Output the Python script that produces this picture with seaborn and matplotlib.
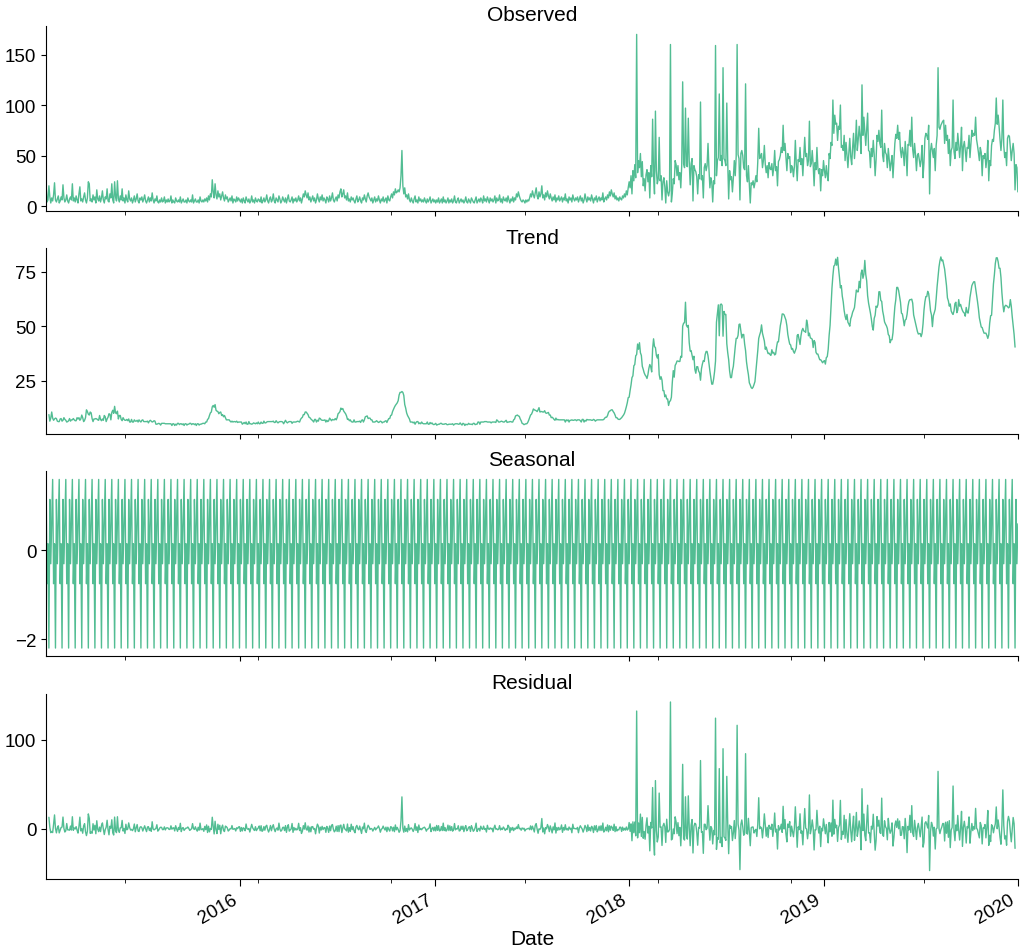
import numpy as np
import pandas as pd
import seaborn as sns
import matplotlib.pyplot as plt
import matplotlib.dates as mdates
from matplotlib.ticker import MultipleLocator, FixedLocator

# observed counts, one list per year
obs_2015 = [22, 4, 6, 20, 9, 3, 8, 5, 11, 23, 6, 4, 7, 10, 3, 5, 9, 6, 21, 8, 4, 6, 11, 5, 3, 7, 9, 6, 22, 5,
            8, 4, 10, 6, 3, 12, 19, 5, 7, 4, 9, 13, 6, 3, 8, 24, 22, 5, 7, 4, 11, 6, 9, 3, 16, 7, 5, 10, 4, 8,
            15, 6, 3, 9, 7, 17, 5, 4, 12, 8, 22, 6, 3, 24, 9, 5, 25, 7, 4, 10, 6, 17, 5, 8, 3, 11, 6, 4, 15, 7,
            5, 8, 3, 6, 10, 4, 7, 12, 5, 3, 8, 6, 9, 4, 7, 11, 5, 3, 6, 9, 4, 8, 5, 13, 6, 3, 7, 5, 10, 4,
            3, 6, 4, 8, 4, 5, 9, 3, 6, 4, 7, 4, 5, 10, 3, 6, 4, 3, 8, 5, 4, 6, 4, 9, 3, 5, 7, 4, 4, 6,
            3, 8, 5, 4, 6, 4, 11, 3, 5, 7, 4, 4, 6, 3, 9, 5, 4, 6, 4, 7,
            5, 8, 4, 10, 6, 12, 9, 26, 14, 8, 22, 11, 7, 15, 9, 12, 6, 10, 14, 8, 5, 11, 7, 9, 4, 6, 8, 5, 10, 3,
            7, 6, 4, 9, 5, 8, 6]
obs_2016 = [4, 7, 3, 8, 5, 3, 9, 6, 4, 7, 3, 5, 10, 4, 6, 3, 8, 5, 4, 7, 6, 4, 9, 3, 5, 8, 4, 6, 11, 5,
            3, 7, 9, 4, 6, 12, 5, 3, 8, 6, 4, 10, 7, 3, 5, 9, 6, 4, 8, 3, 7, 11, 5, 4, 6, 9, 3, 7, 5, 8,
            4, 6, 10, 5, 8, 3, 7, 12, 9, 15, 11, 8, 13, 6, 9, 4, 7, 10, 5, 8, 3, 6, 12, 7, 4, 9, 6, 11, 5, 8,
            6, 3, 9, 7, 4, 10, 5, 8, 13, 6, 4, 7, 9, 5, 11, 8, 14, 17, 9, 12, 16, 8, 10, 6, 13, 5, 7, 4, 9, 6,
            8, 5, 3, 7, 10, 4, 6, 9, 5, 3, 8, 6, 11, 7, 4, 10, 13, 9, 7, 5, 8, 3, 6, 9, 4, 7, 5, 10, 6, 3,
            7, 5, 9, 4, 6, 8, 3, 10, 6, 5, 9, 12, 8, 14, 11, 17, 13, 14, 16, 14, 18, 30, 55, 20, 12, 18, 9, 11, 7, 12,
            6, 4, 8, 5, 3, 7, 10, 4, 6, 3, 9, 5, 7, 4, 6, 4, 8, 5, 3, 7, 4, 6, 9, 3, 5, 7, 4, 6]
obs_2017 = [3, 6, 4, 8, 3, 5, 7, 3, 9, 4, 6, 3, 5, 8, 3, 6, 4, 7, 3, 5, 10, 4, 3, 6, 8, 3, 5, 7, 4, 6,
            3, 5, 9, 4, 3, 7, 5, 3, 8, 6, 4, 3, 6, 9, 3, 5, 7, 4, 8, 6, 3, 10, 5, 7, 4, 9, 6, 3, 8, 5,
            7, 4, 6, 10, 3, 8, 5, 6, 11, 4, 7, 3, 9, 6, 5, 8, 4, 10, 6, 3, 7, 5, 9, 4, 8, 6, 12, 9, 14, 10,
            7, 5, 4, 6, 5, 3, 6, 4, 6, 5, 8, 12, 9, 15, 11, 8, 13, 18, 10, 7, 14, 9, 12, 20, 8, 11, 6, 13, 9, 15,
            10, 7, 12, 8, 5, 9, 6, 11, 4, 8, 6, 10, 5, 7, 9, 4, 8, 6, 12, 5, 7, 3, 9, 6, 8, 4, 11, 7, 5, 8,
            6, 9, 4, 7, 10, 5, 8, 3, 6, 12, 7, 4, 9, 6, 8, 5, 11, 7, 3, 8, 6, 10, 4, 7, 9, 5, 8, 6, 13, 4,
            7, 9, 6, 11, 8, 14, 10, 16, 12, 9, 13, 7, 10, 6, 8, 5, 9, 7, 6, 10, 8, 12, 9, 15, 11, 18, 24]
obs_2018 = [18, 30, 12, 35, 25, 41, 28, 170, 33, 45,
            38, 52, 29, 44, 20, 27, 15, 31, 36, 24,
            33, 8, 40, 29, 86, 31, 12, 94, 35, 22,
            27, 68, 25, 30, 6, 24, 28, 19, 3, 25,
            14, 10, 15, 160, 4, 13, 27, 22, 45, 41,
            30, 40, 26, 33, 18, 40, 123, 42, 38, 97,
            40, 39, 87, 44, 21, 42, 47, 5, 40, 36,
            34, 29, 12, 31, 27, 103, 26, 30, 8, 38,
            42, 35, 40, 62, 37, 18, 28, 24, 4, 25,
            22, 159, 30, 45, 48, 111, 45, 50, 40, 137,
            47, 45, 40, 102, 43, 7, 35, 26, 29, 14,
            28, 45, 30, 49, 160, 51, 47, 6, 52, 55,
            50, 38, 36, 121, 30, 24, 40, 22, 3, 23,
            21, 25, 18, 23, 30, 24, 44, 77, 47, 49,
            52, 38, 45, 60, 41, 33, 40, 28, 43, 37,
            36, 42, 30, 38, 55, 35, 39, 20, 44, 46,
            50, 58, 53, 80, 55, 62, 48, 35, 52, 47,
            49, 33, 40, 38, 29, 39, 65, 42, 25, 46,
            44, 58, 41, 47, 30, 50, 68, 49, 52, 40,
            45, 84, 39, 42, 55, 41, 20, 43, 36, 58,
            38, 32, 37, 15, 36, 30, 45]
obs_2019 = [35, 28, 40, 30, 25, 52, 47, 63, 60, 105,
            72, 90, 81, 82, 65, 79, 76, 100, 58, 60,
            55, 70, 45, 63, 50, 38, 52, 67, 49, 41,
            58, 72, 47, 61, 85, 55, 66, 79, 68, 52,
            120, 70, 88, 74, 60, 77, 92, 55, 54, 38,
            57, 49, 65, 51, 30, 46, 70, 64, 75, 62,
            58, 95, 50, 44, 62, 53, 51, 38, 57, 46,
            35, 43, 50, 28, 45, 62, 71, 67, 80, 66,
            73, 55, 48, 58, 53, 40, 64, 52, 30, 61,
            60, 75, 59, 88, 56, 48, 62, 51, 35, 50,
            52, 46, 39, 46, 60, 28, 43, 67, 72, 70,
            66, 80, 12, 55, 62, 54, 48, 57, 35, 60,
            70, 137, 78, 76, 80, 82, 84, 85, 62, 80,
            65, 70, 52, 66, 40, 55, 58, 105, 54, 47,
            63, 55, 72, 61, 48, 60, 78, 35, 59, 64,
            55, 44, 58, 57, 70, 48, 62, 75, 69, 72,
            70, 88, 66, 60, 53, 45, 58, 53, 30, 50,
            47, 52, 38, 47, 65, 25, 45, 40, 60, 66,
            64, 75, 82, 107, 81, 90, 79, 66, 55, 67,
            105, 60, 48, 53, 40, 67, 70, 69, 58, 45,
            55, 62, 52, 16, 41, 38, 14]

# one period of the weekly seasonal component
seasonal_pattern = [1.6, -0.75, 0.15, -2.2, 1.15, -0.3, 0.6]

titles = ['Observed', 'Trend', 'Seasonal', 'Residual']
year_ticks = ['2016-01-01', '2017-01-01', '2018-01-01', '2019-01-01', '2020-01-01']
year_labels = ['2016', '2017', '2018', '2019', '2020']

observed = pd.Series(obs_2015 + obs_2016 + obs_2017 + obs_2018 + obs_2019, dtype=float)
dates = pd.date_range('2015-01-01', '2020-01-01', periods=len(observed))
observed.index = dates

# decomposition: trimmed moving average over one period
trend = observed.rolling(7, center=True).apply(lambda w: np.sort(w)[1:-1].mean(), raw=True)
seasonal = pd.Series(np.resize(seasonal_pattern, len(observed)), index=dates)
resid = observed - trend - seasonal

sns.set_style('ticks')
plt.rcParams['font.family'] = ['Liberation Sans', 'DejaVu Sans']
plt.rcParams.update({'text.color': 'black', 'axes.labelcolor': 'black',
                     'xtick.color': 'black', 'ytick.color': 'black',
                     'axes.edgecolor': 'black'})

fig, axes = plt.subplots(4, 1, figsize=(10.24, 9.53), dpi=100, sharex=True)
fig.subplots_adjust(left=0.045, right=0.994, top=0.9717, bottom=0.0766, hspace=0.2)

color = '#52bd93'
steps = [50, 25, 2, 100]
for ax, s, title, step in zip(axes, [observed, trend, seasonal, resid], titles, steps):
    sns.lineplot(x=s.index, y=s.values, ax=ax, color=color, linewidth=1.0, estimator=None)
    ax.set_title(title, fontsize=15, pad=4)
    ax.set_ylabel('')
    ax.yaxis.set_major_locator(MultipleLocator(step))
    ax.tick_params(axis='y', labelsize=13.5)
    ax.tick_params(axis='x', which='minor', length=3)

sns.despine()

ax = axes[-1]
ax.set_xlim(pd.Timestamp('2015-01-01'), pd.Timestamp('2020-01-01'))
ax.xaxis.set_major_locator(FixedLocator(mdates.date2num(pd.to_datetime(year_ticks))))
ax.set_xticklabels(year_labels)
minor = pd.Timestamp('2015-05-30') + pd.to_timedelta(np.arange(7) * 250, unit='D')
ax.xaxis.set_minor_locator(FixedLocator(mdates.date2num(minor)))
ax.tick_params(axis='x', which='major', labelsize=13.5, length=5)
plt.setp(ax.get_xticklabels(), rotation=30, ha='right')
ax.set_xlabel('Date', fontsize=15, labelpad=2)

fig.savefig('out.png', dpi=100)
